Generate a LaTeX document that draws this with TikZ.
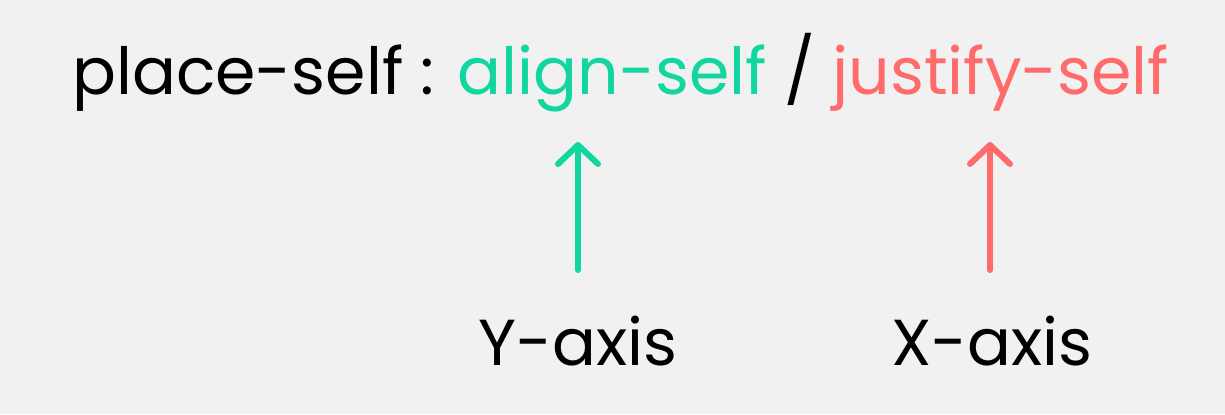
\documentclass[tikz,border=0pt]{standalone}
\usepackage{fontspec}
\setmainfont{Poppins}
\usetikzlibrary{arrows.meta}
\definecolor{bgcol}{HTML}{F1F1F1}
\definecolor{alig}{HTML}{12D6A0}
\definecolor{just}{HTML}{FF6B6B}
\begin{document}
\begin{tikzpicture}[x=0.02cm, y=0.02cm,
			txt/.style={inner sep=0pt, font=\fontsize{37}{44}\selectfont},
			axarrow/.style={line width=0.12cm, line cap=round, -{Straight Barb[length=0.38cm, width=0.8cm, round]}}]
			\fill[bgcol] (0,0) rectangle (1225,414);
			\node[txt, anchor=base west] (title) at (72, 320) {place-self : \textcolor{alig}{align-self} / \textcolor{just}{justify-self}};
			\node[txt, anchor=base west] (yaxis) at (478, 49) {Y-axis};
			\node[txt, anchor=base west] (xaxis) at (891, 49) {X-axis};
			\coordinate (ytail) at (578, 144);
			\coordinate (ytip) at (578, 272);
			\coordinate (xtail) at (990, 144);
			\coordinate (xtip) at (990, 272);
			\draw[axarrow, alig] (ytail) -- (ytip);
			\draw[axarrow, just] (xtail) -- (xtip);
		\end{tikzpicture}
\end{document}
